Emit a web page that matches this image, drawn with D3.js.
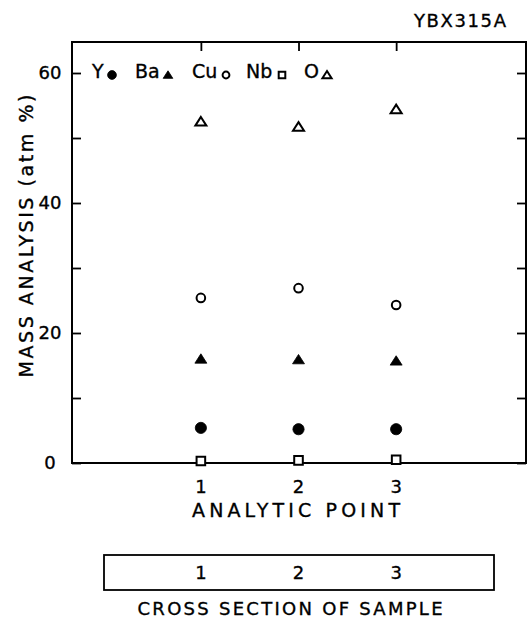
<!DOCTYPE html>
<html>
<head>
<meta charset="utf-8">
<script src="https://cdn.jsdelivr.net/npm/d3@7/dist/d3.min.js"></script>
<style>
  html, body { margin: 0; padding: 0; background: #fff; }
  svg { display: block; }
  text { font-family: "DejaVu Sans", "Liberation Sans", sans-serif; fill: #000; stroke: #000; stroke-width: 0.35px; }
</style>
</head>
<body>
<svg id="chart" width="528" height="626"></svg>
<script>
// Analytic points along the sample cross section
const points = [1, 2, 3];

// Composition at each point (atm %)
const yValues  = [5.4, 5.2, 5.2];
const baValues = [16.0, 15.9, 15.7];
const cuValues = [25.4, 26.9, 24.3];
const nbValues = [0.3, 0.4, 0.5];
const oValues  = [52.5, 51.7, 54.4];

const elements   = ["Y", "Ba", "Cu", "Nb", "O"];
const markerKind = ["dot", "triFilled", "circle", "square", "triOpen"];
const seriesValues = [yValues, baValues, cuValues, nbValues, oValues];

const yTickValues  = [0, 10, 20, 30, 40, 50, 60];
const yTickLabels  = ["0", "20", "40", "60"];
const boxLabels    = ["1", "2", "3"];

const title  = "YBX315A";
const yTitle = "MASS  ANALYSIS  (atm %)";
const xTitle = "ANALYTIC POINT";
const boxTitle = "CROSS SECTION OF SAMPLE";

const svg = d3.select("#chart");

const frame = { left: 72, right: 526, top: 42, bottom: 463 };
const x = d3.scaleLinear().domain([-0.32, 4.33]).range([frame.left, frame.right]);
const y = d3.scaleLinear().domain([0, 64.77]).range([frame.bottom, frame.top]);

// Marker shapes drawn around a (0,0) centre
function markerPath(kind, s) {
  const p = d3.path();
  if (kind === "dot" || kind === "circle") {
    p.arc(0, 0, s, 0, 2 * Math.PI);
  } else if (kind === "square") {
    p.rect(-s, -s, 2 * s, 2 * s);
  } else {
    const w = s * 1.15, h = s;
    p.moveTo(0, -h); p.lineTo(w, h * 0.8); p.lineTo(-w, h * 0.8); p.closePath();
  }
  return p.toString();
}
function markerStyle(sel, kind) {
  const filled = kind === "dot" || kind === "triFilled";
  sel.attr("fill", filled ? "#000" : "#fff")
     .attr("stroke", "#000")
     .attr("stroke-width", filled ? 0.8 : 2);
}
const plotSize = { dot: 5.6, triFilled: 5.2, circle: 4.3, square: 4.3, triOpen: 4.8 };
const legendSize = { dot: 4.4, triFilled: 4.2, circle: 3.4, square: 3.3, triOpen: 4.0 };

// Frame
svg.append("rect")
  .attr("x", frame.left).attr("y", frame.top)
  .attr("width", frame.right - frame.left).attr("height", frame.bottom - frame.top)
  .attr("fill", "none").attr("stroke", "#000").attr("stroke-width", 2);

// Inward ticks on left, right and top
const tickLen = 9;
svg.append("g").attr("transform", `translate(${frame.left},0)`)
  .call(d3.axisLeft(y).tickValues(yTickValues).tickSize(-tickLen).tickFormat(""))
  .call(g => g.select(".domain").remove())
  .call(g => g.selectAll("line").attr("stroke-width", 1.8));
svg.append("g").attr("transform", `translate(${frame.right},0)`)
  .call(d3.axisRight(y).tickValues(yTickValues).tickSize(-tickLen).tickFormat(""))
  .call(g => g.select(".domain").remove())
  .call(g => g.selectAll("line").attr("stroke-width", 1.8));
svg.append("g").attr("transform", `translate(0,${frame.top})`)
  .call(d3.axisTop(x).tickValues(points).tickSize(-tickLen).tickFormat(""))
  .call(g => g.select(".domain").remove())
  .call(g => g.selectAll("line").attr("stroke-width", 1.8));

// Y tick labels
svg.append("g").selectAll("text").data(yTickLabels).join("text")
  .attr("x", 50).attr("y", d => y(+d)).attr("dy", "0.36em")
  .attr("text-anchor", "middle").attr("font-size", 18)
  .text(d => d);

// X tick labels
svg.append("g").selectAll("text").data(points).join("text")
  .attr("x", d => x(d)).attr("y", 493)
  .attr("text-anchor", "middle").attr("font-size", 18)
  .text(d => d);

// Axis titles
svg.append("text")
  .attr("transform", "translate(33,236) rotate(-90)")
  .attr("text-anchor", "middle").attr("font-size", 19)
  .attr("textLength", 283).attr("lengthAdjust", "spacing")
  .text(yTitle);
svg.append("text")
  .attr("x", 296).attr("y", 517).attr("text-anchor", "middle").attr("font-size", 19)
  .attr("textLength", 208).attr("lengthAdjust", "spacing")
  .text(xTitle);
svg.append("text")
  .attr("x", 460).attr("y", 27).attr("text-anchor", "middle").attr("font-size", 18)
  .attr("textLength", 92).attr("lengthAdjust", "spacing")
  .text(title);

// Data markers
seriesValues.forEach((vals, i) => {
  const kind = markerKind[i];
  svg.append("g").selectAll("path").data(points).join("path")
    .attr("transform", (d, j) => `translate(${x(d)},${y(vals[j])})`)
    .attr("d", markerPath(kind, plotSize[kind]))
    .call(markerStyle, kind);
});

// Legend along the top of the plot
const legendTextX = [92, 135, 192, 246, 304];
const legendMarkX = [112, 168, 226, 282, 327];
const legend = svg.append("g");
elements.forEach((name, i) => {
  legend.append("text")
    .attr("x", legendTextX[i]).attr("y", 78).attr("font-size", 19)
    .text(name);
  const kind = markerKind[i];
  legend.append("path")
    .attr("transform", `translate(${legendMarkX[i]},75)`)
    .attr("d", markerPath(kind, legendSize[kind]))
    .call(markerStyle, kind);
});

// Cross-section strip below
svg.append("rect")
  .attr("x", 104).attr("y", 555).attr("width", 390).attr("height", 35)
  .attr("fill", "none").attr("stroke", "#000").attr("stroke-width", 1.8);
svg.append("g").selectAll("text").data(boxLabels).join("text")
  .attr("x", (d, i) => x(points[i])).attr("y", 579)
  .attr("text-anchor", "middle").attr("font-size", 18)
  .text(d => d);
svg.append("text")
  .attr("x", 290).attr("y", 615).attr("text-anchor", "middle").attr("font-size", 18)
  .attr("textLength", 305).attr("lengthAdjust", "spacing")
  .text(boxTitle);
</script>
</body>
</html>
